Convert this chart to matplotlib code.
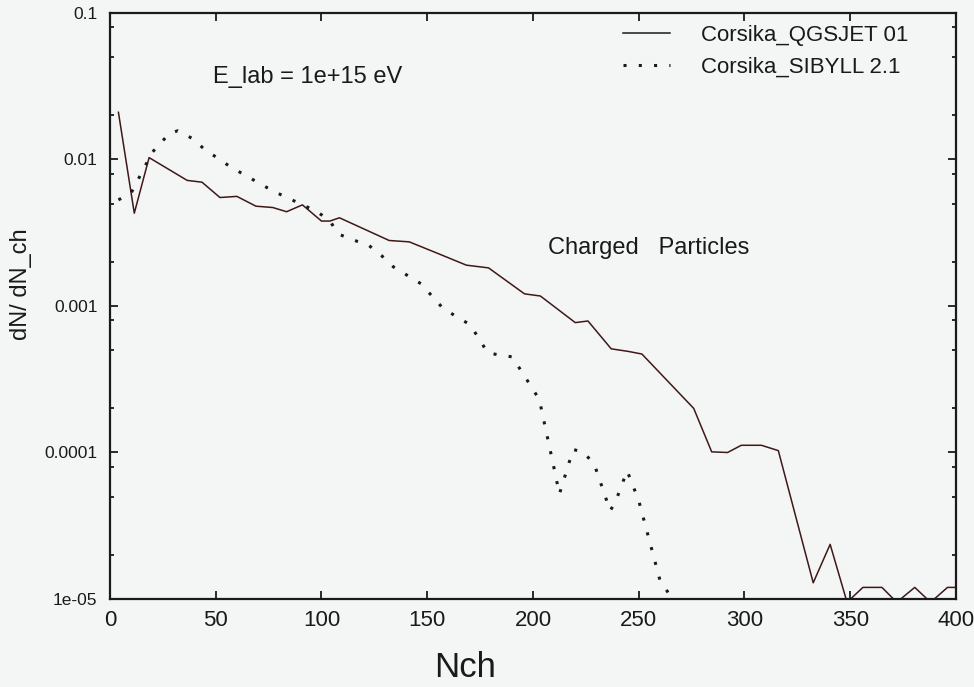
import numpy as np
import matplotlib
matplotlib.use("Agg")
import matplotlib.pyplot as plt
from matplotlib import font_manager
from matplotlib.ticker import LogLocator, FixedLocator, FixedFormatter, NullFormatter

plt.rcParams['font.family'] = ['Liberation Sans', 'DejaVu Sans']
names = {f.name for f in font_manager.fontManager.ttflist}
narrow = 'Liberation Sans Narrow' if 'Liberation Sans Narrow' in names else 'Liberation Sans'

# charged multiplicity distributions, E_lab = 1e15 eV
qgs_n = [4, 11.5, 18.5, 36.5, 43.5, 52, 60, 69, 77, 83.5, 91, 100, 104, 108.5,
         132, 141.5, 154.5, 168.5, 179, 196, 203.5, 220, 226, 237, 245, 251.5,
         276, 284.5, 292, 298.5, 308, 316, 332.5, 340.5, 348.5, 356, 365, 372,
         380.5, 388, 396, 404]
qgs_val = [0.021, 0.0043, 0.0103, 0.0072, 0.0070, 0.0055, 0.0056, 0.0048, 0.0047,
           0.0044, 0.0049, 0.0038, 0.0038, 0.0040, 0.0028, 0.00274, 0.0023, 0.0019,
           0.00182, 0.00121, 0.00117, 0.00077, 0.00079, 0.00051, 0.00049, 0.00047,
           0.0002, 0.000101, 0.0001, 0.000112, 0.000112, 0.000103, 1.29e-5, 2.36e-5,
           9.5e-6, 1.2e-5, 1.2e-5, 9.5e-6, 1.2e-5, 9.5e-6, 1.2e-5, 1.2e-5]

sib_n = [4, 10, 20, 28, 32, 39, 44.5, 57, 77, 98, 104, 108, 115, 122, 128.5, 134,
         147, 152, 157, 163.5, 170, 174.5, 178.5, 185, 190, 194.5, 203, 209.5,
         212.5, 219, 224, 229, 236.5, 239, 244.5, 250, 260, 264, 268]
sib_val = [0.0053, 0.0059, 0.0112, 0.0150, 0.0157, 0.0139, 0.0118, 0.0089, 0.0061,
           0.0044, 0.0038, 0.0031, 0.00282, 0.00262, 0.0022, 0.00185, 0.00142,
           0.00118, 0.00098, 0.00085, 0.00075, 0.0006, 0.00048, 0.00046, 0.00045,
           0.00036, 0.00023, 8.4e-5, 5.2e-5, 0.000105, 0.0001, 8.3e-5, 4.0e-5,
           4.6e-5, 7.5e-5, 4.7e-5, 1.35e-5, 1.1e-5, 8e-6]

x_ticks = [0, 50, 100, 150, 200, 250, 300, 350, 400]
y_ticks = [1e-5, 1e-4, 1e-3, 1e-2, 1e-1]
y_labels = ['1e-05', '0.0001', '0.001', '0.01', '0.1']

bg = '#f4f6f5'
ink = '#1a1a1a'

fig = plt.figure(figsize=(9.74, 6.87), dpi=100, facecolor=bg)
ax = fig.add_axes([0.1129, 0.1281, 0.8686, 0.853], facecolor=bg)

ax.plot(qgs_n, qgs_val, color='#3f1818', lw=1.1, label='Corsika_QGSJET 01')
ax.plot(sib_n, sib_val, color=ink, lw=2.2, linestyle=(0, (1, 4)),
        label='Corsika_SIBYLL 2.1')

ax.set_yscale('log')
ax.set_xlim(0, 400)
ax.set_ylim(1e-5, 0.1)

ax.xaxis.set_major_locator(FixedLocator(x_ticks))
ax.set_xticklabels([str(v) for v in x_ticks], family=narrow, fontsize=16, color=ink)
ax.yaxis.set_major_locator(FixedLocator(y_ticks))
ax.yaxis.set_major_formatter(FixedFormatter(y_labels))
ax.yaxis.set_minor_locator(LogLocator(base=10, subs=(2, 5, 8)))
ax.yaxis.set_minor_formatter(NullFormatter())
for lab in ax.get_yticklabels():
    lab.set_fontsize(12.5)
    lab.set_color(ink)

ax.tick_params(which='both', direction='in', top=True, right=True, width=1.3, color=ink)
ax.tick_params(which='major', length=6)
ax.tick_params(which='minor', length=3)
ax.tick_params(axis='x', pad=8)
ax.tick_params(axis='y', pad=9)
for sp in ax.spines.values():
    sp.set_linewidth(1.6)
    sp.set_color(ink)

ax.set_xlabel('Nch', fontsize=25, color=ink)
ax.xaxis.set_label_coords(0.42, -0.088)
ax.set_ylabel('dN/ dN_ch', fontsize=17, color=ink)
ax.yaxis.set_label_coords(-0.092, 0.5375)

ax.text(48.7, 0.0366, 'E_lab = 1e+15 eV', fontsize=17, color=ink, va='center')
ax.text(207, 0.00249, 'Charged   Particles', fontsize=17, color=ink, va='center')

leg = ax.legend(loc='upper right', bbox_to_anchor=(0.967, 1.014), frameon=False,
                fontsize=16, handlelength=2.1, handletextpad=1.4, labelspacing=0.5)
for t in leg.get_texts():
    t.set_color(ink)
leg.get_lines()[0].set_color(ink)

fig.savefig('out.png', dpi=100, facecolor=bg)
